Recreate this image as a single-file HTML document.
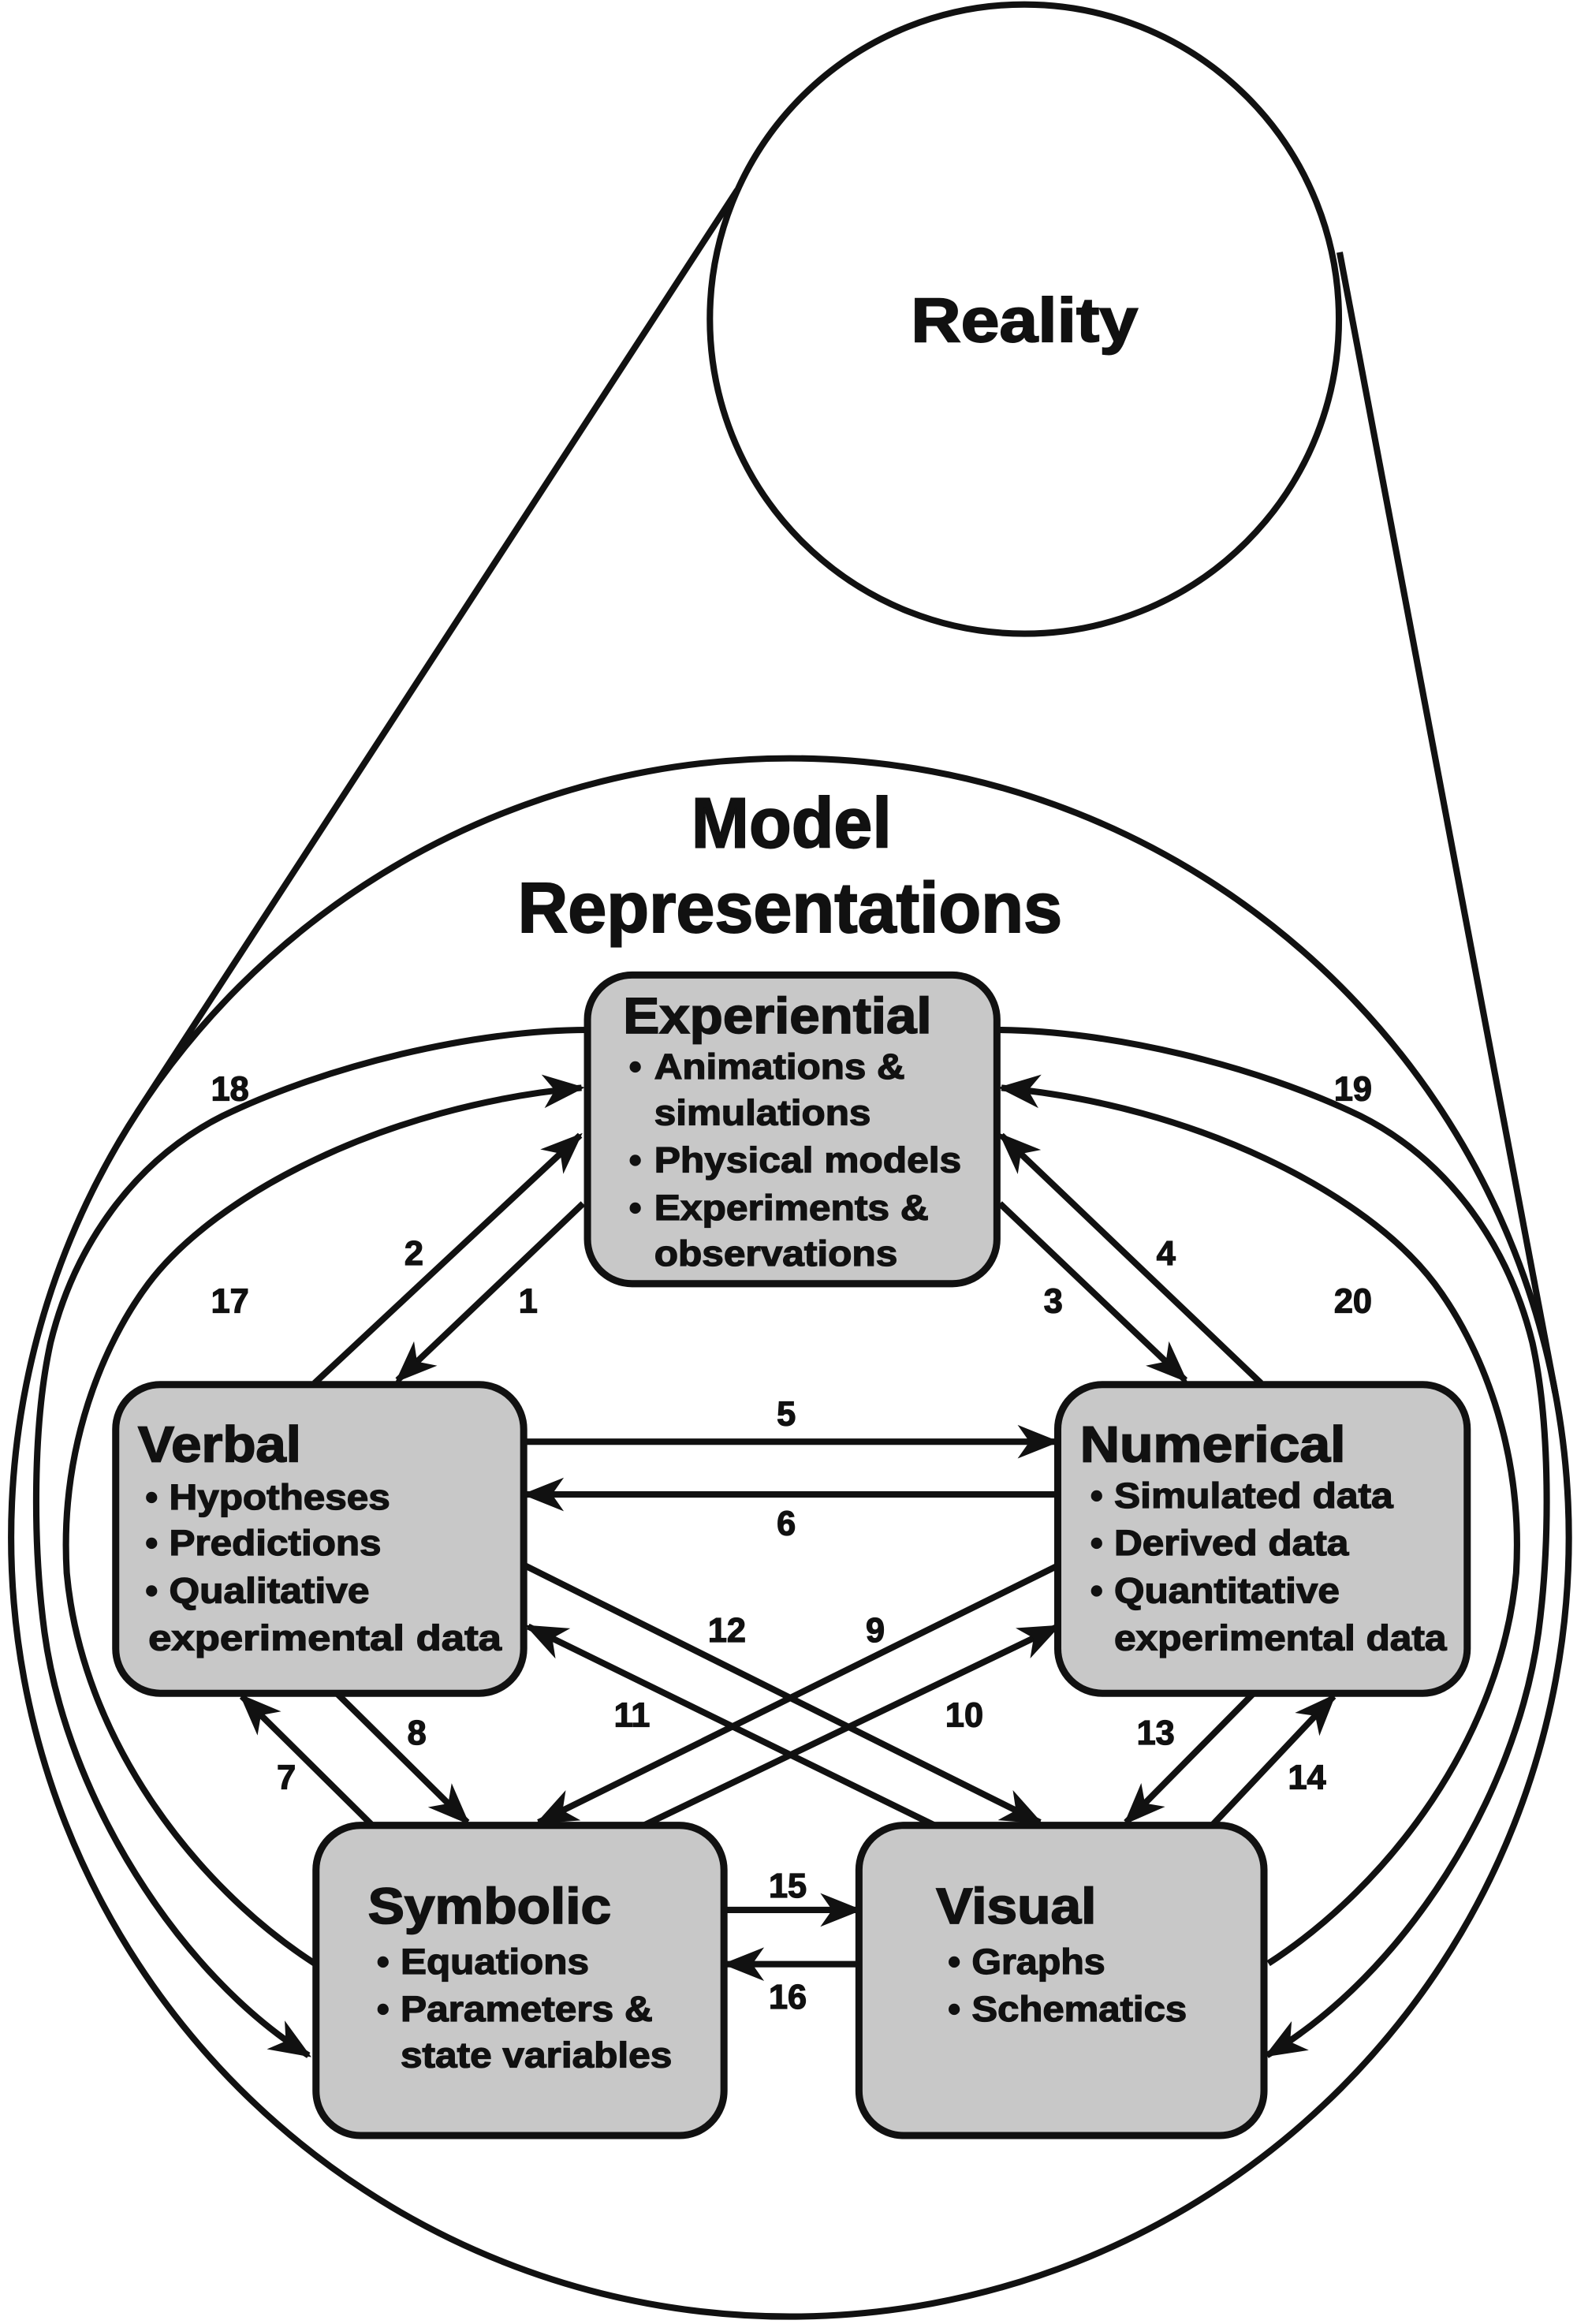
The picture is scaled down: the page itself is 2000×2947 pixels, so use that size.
<!DOCTYPE html>
<html><head><meta charset="utf-8">
<style>
html,body{margin:0;padding:0;background:#fff;}
svg{display:block;}
text{font-family:"Liberation Sans",Arial,sans-serif;font-weight:bold;fill:#111;stroke:#111;stroke-width:0.7;}
.t{font-size:34px;stroke-width:0.9;}
.b{font-size:24px;}
.n{font-size:23px;text-anchor:middle;dominant-baseline:central;}
</style></head>
<body>
<svg width="2000" height="2947" viewBox="0 0 1063 1566" preserveAspectRatio="none" xmlns="http://www.w3.org/2000/svg">
<defs>
<marker id="a" markerUnits="userSpaceOnUse" markerWidth="34" markerHeight="34" viewBox="-26 -13 30 26" refX="0" refY="0" orient="auto">
<path d="M2,0 L-23,-10 L-16,0 L-23,10 Z" fill="#111"/>
</marker>
</defs>
<g fill="none" stroke="#111" stroke-width="4.3">
<circle cx="690.5" cy="215" r="212"/>
<circle cx="532.5" cy="1036" r="525"/>
<line x1="497" y1="128" x2="92.5" y2="749.6"/>
<line x1="903" y1="170" x2="1048.3" y2="938.3"/>
<path d="M396,694 C320,694 220,718 150,752 C90,782 50,840 34,905 C22,960 22,1040 30,1100 C45,1210 120,1330 208,1385" marker-end="url(#a)"/>
<path d="M212,1323 C130,1270 55,1170 45,1060 C40,975 70,905 100,865 C145,805 260,745 392,733" marker-end="url(#a)"/>
<g transform="translate(1067,0) scale(-1,1)">
<path d="M396,694 C320,694 220,718 150,752 C90,782 50,840 34,905 C22,960 22,1040 30,1100 C45,1210 120,1330 213,1385" marker-end="url(#a)"/>
<path d="M212,1323 C130,1270 55,1170 45,1060 C40,975 70,905 100,865 C145,805 260,745 392,733" marker-end="url(#a)"/>
</g>
<line x1="393" y1="811" x2="268" y2="930" marker-end="url(#a)"/>
<line x1="212" y1="932" x2="391" y2="765" marker-end="url(#a)"/>
<line x1="674" y1="811" x2="799" y2="930" marker-end="url(#a)"/>
<line x1="850" y1="932" x2="675" y2="765" marker-end="url(#a)"/>
<line x1="354" y1="971.5" x2="712" y2="971.5" marker-end="url(#a)"/>
<line x1="713" y1="1007" x2="354" y2="1007" marker-end="url(#a)"/>
<line x1="354" y1="1055" x2="701" y2="1228" marker-end="url(#a)"/>
<line x1="630" y1="1230" x2="356" y2="1096" marker-end="url(#a)"/>
<line x1="713" y1="1055" x2="363" y2="1228" marker-end="url(#a)"/>
<line x1="434" y1="1230" x2="713" y2="1096" marker-end="url(#a)"/>
<line x1="251" y1="1230" x2="163" y2="1143" marker-end="url(#a)"/>
<line x1="227" y1="1141" x2="315" y2="1228" marker-end="url(#a)"/>
<line x1="845" y1="1141" x2="759" y2="1228" marker-end="url(#a)"/>
<line x1="817" y1="1230" x2="899" y2="1143" marker-end="url(#a)"/>
<line x1="488" y1="1287" x2="579" y2="1287" marker-end="url(#a)"/>
<line x1="580" y1="1323.5" x2="489" y2="1323.5" marker-end="url(#a)"/>
</g>
<g fill="#c8c8c8" stroke="#111" stroke-width="4.8">
<rect x="396" y="657" width="276" height="208" rx="30"/>
<rect x="78" y="933" width="275" height="208" rx="30"/>
<rect x="713" y="933" width="276" height="208" rx="30"/>
<rect x="213" y="1230" width="275" height="209" rx="30"/>
<rect x="579" y="1230" width="273" height="209" rx="30"/>
</g>
<text x="614" y="230" font-size="42" textLength="153" lengthAdjust="spacingAndGlyphs" style="stroke-width:1">Reality</text>
<text x="466" y="571" font-size="48" textLength="135" lengthAdjust="spacingAndGlyphs" style="stroke-width:1">Model</text>
<text x="349" y="628" font-size="48" textLength="367" lengthAdjust="spacingAndGlyphs" style="stroke-width:1">Representations</text>
<text class="t" x="420" y="696" textLength="208" lengthAdjust="spacingAndGlyphs">Experiential</text>
<text class="b" x="424" y="727">•</text><text class="b" x="441" y="727" textLength="169" lengthAdjust="spacingAndGlyphs">Animations &amp;</text>
<text class="b" x="441" y="758" textLength="146" lengthAdjust="spacingAndGlyphs">simulations</text>
<text class="b" x="424" y="790">•</text><text class="b" x="441" y="790" textLength="207" lengthAdjust="spacingAndGlyphs">Physical models</text>
<text class="b" x="424" y="822">•</text><text class="b" x="441" y="822" textLength="185" lengthAdjust="spacingAndGlyphs">Experiments &amp;</text>
<text class="b" x="441" y="853" textLength="164" lengthAdjust="spacingAndGlyphs">observations</text>
<text class="t" x="93" y="985" textLength="110" lengthAdjust="spacingAndGlyphs">Verbal</text>
<text class="b" x="98" y="1017">•</text><text class="b" x="114" y="1017" textLength="149" lengthAdjust="spacingAndGlyphs">Hypotheses</text>
<text class="b" x="98" y="1048">•</text><text class="b" x="114" y="1048" textLength="143" lengthAdjust="spacingAndGlyphs">Predictions</text>
<text class="b" x="98" y="1080">•</text><text class="b" x="114" y="1080" textLength="135" lengthAdjust="spacingAndGlyphs">Qualitative</text>
<text class="b" x="100" y="1112" textLength="238" lengthAdjust="spacingAndGlyphs">experimental data</text>
<text class="t" x="728" y="985" textLength="179" lengthAdjust="spacingAndGlyphs">Numerical</text>
<text class="b" x="735" y="1016">•</text><text class="b" x="751" y="1016" textLength="188" lengthAdjust="spacingAndGlyphs">Simulated data</text>
<text class="b" x="735" y="1048">•</text><text class="b" x="751" y="1048" textLength="158" lengthAdjust="spacingAndGlyphs">Derived data</text>
<text class="b" x="735" y="1080">•</text><text class="b" x="751" y="1080" textLength="152" lengthAdjust="spacingAndGlyphs">Quantitative</text>
<text class="b" x="751" y="1112" textLength="224" lengthAdjust="spacingAndGlyphs">experimental data</text>
<text class="t" x="248" y="1296" textLength="164" lengthAdjust="spacingAndGlyphs">Symbolic</text>
<text class="b" x="254" y="1330">•</text><text class="b" x="270" y="1330" textLength="127" lengthAdjust="spacingAndGlyphs">Equations</text>
<text class="b" x="254" y="1362">•</text><text class="b" x="270" y="1362" textLength="170" lengthAdjust="spacingAndGlyphs">Parameters &amp;</text>
<text class="b" x="270" y="1393" textLength="183" lengthAdjust="spacingAndGlyphs">state variables</text>
<text class="t" x="631" y="1296" textLength="108" lengthAdjust="spacingAndGlyphs">Visual</text>
<text class="b" x="639" y="1330">•</text><text class="b" x="655" y="1330" textLength="90" lengthAdjust="spacingAndGlyphs">Graphs</text>
<text class="b" x="639" y="1362">•</text><text class="b" x="655" y="1362" textLength="145" lengthAdjust="spacingAndGlyphs">Schematics</text>
<text class="n" x="155" y="734">18</text>
<text class="n" x="912" y="734">19</text>
<text class="n" x="155" y="877">17</text>
<text class="n" x="912" y="877">20</text>
<text class="n" x="279" y="845">2</text>
<text class="n" x="356" y="877">1</text>
<text class="n" x="710" y="877">3</text>
<text class="n" x="786" y="845">4</text>
<text class="n" x="530" y="953">5</text>
<text class="n" x="530" y="1027">6</text>
<text class="n" x="490" y="1099">12</text>
<text class="n" x="590" y="1099">9</text>
<text class="n" x="426" y="1156">11</text>
<text class="n" x="650" y="1156">10</text>
<text class="n" x="281" y="1168">8</text>
<text class="n" x="193" y="1198">7</text>
<text class="n" x="779" y="1168">13</text>
<text class="n" x="881" y="1198">14</text>
<text class="n" x="531" y="1271">15</text>
<text class="n" x="531" y="1346">16</text>
</svg>
</body></html>
